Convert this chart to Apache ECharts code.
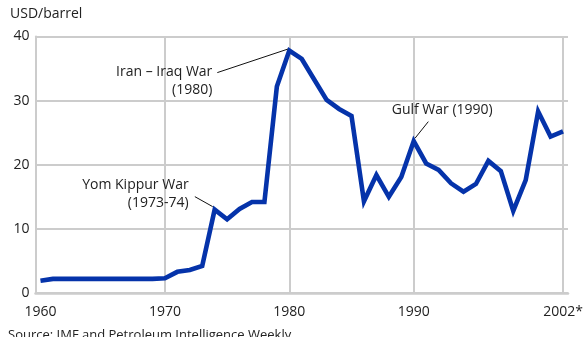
<!DOCTYPE html>
<html>
<head>
<meta charset="utf-8">
<script src="https://cdn.jsdelivr.net/npm/echarts@6/dist/echarts.min.js"></script>
<style>
  html, body { margin: 0; padding: 0; background: #ffffff; }
  #chart { width: 583px; height: 337px; }
</style>
</head>
<body>
<div id="chart"></div>
<script>
// Annual crude oil price, USD per barrel
const years = [
  1960, 1961, 1962, 1963, 1964, 1965, 1966, 1967, 1968, 1969,
  1970, 1971, 1972, 1973, 1974, 1975, 1976, 1977, 1978, 1979,
  1980, 1981, 1982, 1983, 1984, 1985, 1986, 1987, 1988, 1989,
  1990, 1991, 1992, 1993, 1994, 1995, 1996, 1997, 1998, 1999,
  2000, 2001, 2002
];
const prices = [
  1.9, 2.2, 2.2, 2.2, 2.2, 2.2, 2.2, 2.2, 2.2, 2.2,
  2.3, 3.3, 3.6, 4.2, 13.0, 11.5, 13.1, 14.2, 14.2, 32.2,
  37.8, 36.5, 33.3, 30.1, 28.7, 27.6, 14.3, 18.4, 15.0, 18.1,
  23.7, 20.2, 19.2, 17.1, 15.8, 17.0, 20.6, 19.0, 12.8, 17.6,
  28.3, 24.4, 25.2
];
const xLabelYears = [1960, 1970, 1980, 1990, 2002];
const xGridYears = [1970, 1980, 1990, 2002];
const yTickValues = [0, 10, 20, 30, 40];

// Event call-outs: the year they point to and their caption lines
const eventYears = [1980, 1990, 1974];
const eventCaptions = [
  ['Iran \u2013 Iraq War', '(1980)'],
  ['Gulf War (1990)'],
  ['Yom Kippur War', '(1973-74)']
];

const FONT = '"Open Sans", "Noto Sans", sans-serif';
const TEXT_COLOR = '#222222';
const GRID_COLOR = '#cccccc';
const LINE_COLOR = '#0533aa';

// Call-out placement relative to the point the leader line touches
const calloutLayout = [
  { lineFrom: [-72, 22], lineTo: [-1.5, -1.5], text: [-77, 21], align: 'right', lead: 18 },
  { lineFrom: [14.6, -19.4], lineTo: [1.3, -2.8], text: [-22, -31], align: 'left', lead: 18 },
  { lineFrom: [-19.8, -13], lineTo: [-2, -3], text: [-26, -25], align: 'right', lead: 18 }
];

const chart = echarts.init(document.getElementById('chart'), null, { renderer: 'canvas' });

const seriesData = years.map((y, i) => [y, prices[i]]);

chart.setOption({
  animation: false,
  backgroundColor: '#ffffff',
  grid: { left: 35.5, right: 15, top: 36.5, bottom: 44, containLabel: false, outerBoundsMode: 'none' },
  xAxis: {
    type: 'value',
    min: 1959.6,
    max: 2002.4,
    axisLine: { show: true, lineStyle: { color: GRID_COLOR, width: 2.5 } },
    axisTick: { show: false },
    splitLine: { show: false },
    axisLabel: {
      customValues: xLabelYears,
      formatter: v => (v === 2002 ? '2002*' : String(v)),
      fontFamily: FONT,
      fontSize: 14,
      color: TEXT_COLOR,
      margin: 12,
      showMinLabel: true,
      showMaxLabel: true
    }
  },
  yAxis: {
    type: 'value',
    min: 0,
    max: 40,
    interval: 10,
    axisLine: { show: true, lineStyle: { color: GRID_COLOR, width: 2 } },
    axisTick: { show: false },
    splitLine: { show: true, lineStyle: { color: GRID_COLOR, width: 2 } },
    axisLabel: {
      fontFamily: FONT,
      fontSize: 14,
      color: TEXT_COLOR,
      margin: 6,
      formatter: v => (yTickValues.includes(v) ? String(v) : '')
    }
  },
  series: [
    {
      // vertical decade grid lines
      type: 'line',
      data: [],
      silent: true,
      z: 1,
      markLine: {
        silent: true,
        symbol: ['none', 'none'],
        label: { show: false },
        lineStyle: { color: GRID_COLOR, width: 2, type: 'solid' },
        data: xGridYears.map(y => ({ xAxis: y }))
      }
    },
    {
      type: 'line',
      data: seriesData,
      symbol: 'none',
      lineStyle: { color: LINE_COLOR, width: 4.6, join: 'miter' },
      z: 5
    }
  ]
});

// Unit caption, source note and event call-outs
const graphics = [
  {
    type: 'text', left: 10, top: 7,
    style: { text: 'USD/barrel', fontFamily: FONT, fontSize: 14, fill: TEXT_COLOR }
  },
  {
    type: 'text', left: 8, top: 329,
    style: { text: 'Source: IMF and Petroleum Intelligence Weekly.', fontFamily: FONT, fontSize: 13, fill: TEXT_COLOR }
  }
];

eventYears.forEach((yr, k) => {
  const idx = years.indexOf(yr);
  const p = chart.convertToPixel({ gridIndex: 0 }, [yr, prices[idx]]);
  const L = calloutLayout[k];
  graphics.push({
    type: 'line',
    shape: {
      x1: p[0] + L.lineFrom[0], y1: p[1] + L.lineFrom[1],
      x2: p[0] + L.lineTo[0], y2: p[1] + L.lineTo[1]
    },
    style: { stroke: '#111111', lineWidth: 1 },
    z: 10
  });
  eventCaptions[k].forEach((line, j) => {
    graphics.push({
      type: 'text',
      x: p[0] + L.text[0],
      y: p[1] + L.text[1] + j * L.lead,
      style: {
        text: line, fontFamily: FONT, fontSize: 14, fill: TEXT_COLOR,
        align: L.align, verticalAlign: 'middle'
      },
      z: 10
    });
  });
});

chart.setOption({ graphic: graphics });
</script>
</body>
</html>
